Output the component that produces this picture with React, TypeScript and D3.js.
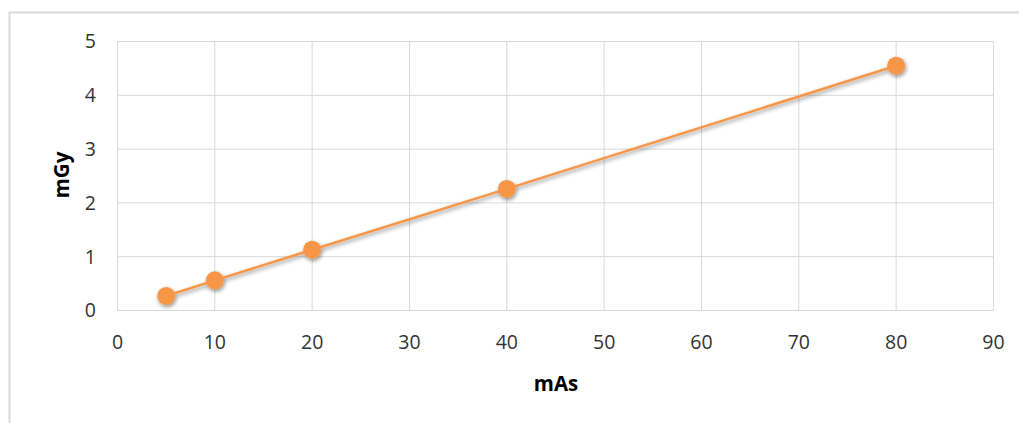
import React from "react";
import * as d3 from "d3";

const xValues = [5, 10, 20, 40, 80];
const yValues = [0.27, 0.56, 1.13, 2.26, 4.55];
const xTicks = [0, 10, 20, 30, 40, 50, 60, 70, 80, 90];
const yTicks = [0, 1, 2, 3, 4, 5];
const xTitle = "mAs";
const yTitle = "mGy";

const W = 1019;
const H = 423;
const plot = { left: 117.5, top: 41.5, right: 993.5, bottom: 310.5 };
const ORANGE = "#F79646";
const FONT = "'Open Sans', sans-serif";

export default function App() {
  const x = d3.scaleLinear().domain([0, 90]).range([plot.left, plot.right]);
  const y = d3.scaleLinear().domain([0, 5]).range([plot.bottom, plot.top]);
  const pts = xValues.map((v, i) => [x(v), y(yValues[i])] as [number, number]);
  const line = d3.line()(pts) || "";
  return (
    <svg
      width={W}
      height={H}
      style={{ position: "absolute", left: 0, top: 0, background: "#fff" }}
    >
      <defs>
        <filter id="sh" x="-50%" y="-50%" width="200%" height="200%">
          <feGaussianBlur in="SourceAlpha" stdDeviation="2" />
          <feOffset dx="1" dy="2" result="b" />
          <feComponentTransfer>
            <feFuncA type="linear" slope="0.45" />
          </feComponentTransfer>
          <feMerge>
            <feMergeNode />
            <feMergeNode in="SourceGraphic" />
          </feMerge>
        </filter>
      </defs>
      <rect x={9.5} y={12.5} width={1020} height={420} fill="#fff" stroke="#d9d9d9" strokeWidth={2} />
      {yTicks.map((t) => (
        <line key={"gy" + t} x1={plot.left} x2={plot.right} y1={y(t)} y2={y(t)} stroke="#d9d9d9" strokeWidth={1} />
      ))}
      {xTicks.map((t) => (
        <line key={"gx" + t} x1={x(t)} x2={x(t)} y1={plot.top} y2={plot.bottom} stroke="#d9d9d9" strokeWidth={1} />
      ))}
      {yTicks.map((t) => (
        <text key={"ty" + t} x={96} y={y(t)} dy="0.35em" textAnchor="end" fontFamily={FONT} fontSize={19.5} fill="#333">
          {t}
        </text>
      ))}
      {xTicks.map((t) => (
        <text key={"tx" + t} x={x(t)} y={342} dy="0.35em" textAnchor="middle" fontFamily={FONT} fontSize={19.5} fill="#333">
          {t}
        </text>
      ))}
      <g filter="url(#sh)">
        <path d={line} fill="none" stroke={ORANGE} strokeWidth={2.5} />
        {pts.map((p, i) => (
          <circle key={i} cx={p[0]} cy={p[1]} r={9} fill={ORANGE} />
        ))}
      </g>
      <text x={556} y={384} dy="0.35em" textAnchor="middle" fontFamily={FONT} fontSize={20.5} fontWeight="bold" fill="#000">
        {xTitle}
      </text>
      <text
        transform={`translate(62,175) rotate(-90)`}
        dy="0.35em"
        textAnchor="middle"
        fontFamily={FONT}
        fontSize={20.5}
        fontWeight="bold"
        fill="#000"
      >
        {yTitle}
      </text>
    </svg>
  );
}
